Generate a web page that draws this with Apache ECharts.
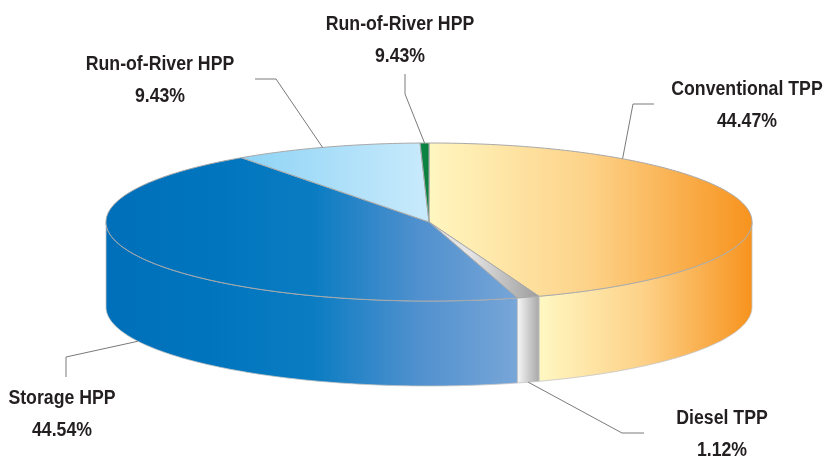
<!DOCTYPE html>
<html>
<head>
<meta charset="utf-8">
<style>html,body{margin:0;padding:0;background:#fff}#chart{width:824px;height:457px}</style>
<script src="https://cdn.jsdelivr.net/npm/echarts@6/dist/echarts.min.js"></script>
</head>
<body>
<div id="chart"></div>
<script>
// data, clockwise from 12 o'clock
var names = ['Conventional TPP', 'Diesel TPP', 'Storage HPP', 'Run-of-River HPP', 'Run-of-River HPP'];
var shares = [44.47, 1.12, 44.54, 9.43, 0.44];     // the slices as they are drawn
var shareLabels = ['44.47%', '1.12%', '44.54%', '9.43%', '9.43%']; // the printed text (green one says 9.43)

// disc geometry
var cx = 429, cy = 222, rx = 323, ry = 79, depth = 85;

// colour ramps, left to right over [x0, x1]
var blues = ['#006fba', '#0075be', '#0a7cc2', '#4f90ce', '#78a6d8'];
var topRamps = [
    { x0: 429, x1: 752, stops: ['#fff6c0', '#fdd288', '#f7931e'] },
    { x0: 470, x1: 540, stops: ['#e4e4e4', '#9c9c9c'] },
    { x0: 106, x1: 520, stops: blues },
    { x0: 241, x1: 420, stops: ['#8ed4f6', '#c6e9fb'] },
    { x0: 418, x1: 429, stops: ['#0b8a46', '#0b7f40'] }
];
var wallRamps = [
    { x0: 540, x1: 752, stops: ['#fff7c2', '#fdd086', '#f7931e'] },
    { x0: 518, x1: 540, stops: ['#f4f4f4', '#a4a4a4'] },
    { x0: 106, x1: 518, stops: blues },
    null,
    null
];

// leaders: tail, elbow, where along the slice it lands, on the lower rim or not
var leaders = [
    { tail: [654, 104], elbow: [633, 104], at: 0.23, low: false },
    { tail: [644, 433], elbow: [622, 433], at: 0.5, low: true },
    { tail: [66, 377], elbow: [66, 357], at: 0.5, low: true },
    { tail: [255, 79], elbow: [276, 79], at: 0.48, low: false },
    { tail: [405, 74], elbow: [405, 94], at: 0.5, low: false }
];
var labelPos = [[747, 137], [722, 466], [62, 446], [160, 112], [400, 72]];

var data = [];
var sum = 0;
shares.forEach(function (s) {
    data.push([sum / 100 * 360, (sum + s) / 100 * 360]);
    sum += s;
});
// shares stop at 100, close any rounding gap
data[data.length - 1][1] = 360;

function rim(deg, drop) {
    var a = deg * Math.PI / 180;
    return [cx + rx * Math.sin(a), cy - ry * Math.cos(a) + (drop || 0)];
}

function ramp(r) {
    var n = r.stops.length - 1;
    return new echarts.graphic.LinearGradient(r.x0, 0, r.x1, 0, r.stops.map(function (c, i) {
        return { offset: i / n, color: c };
    }), true);
}

function renderSlice(params, api) {
    var i = params.dataIndex, a0 = api.value(0), a1 = api.value(1);
    var children = [];
    // wall: only the part facing us (90..270 degrees)
    var w0 = Math.max(a0, 90), w1 = Math.min(a1, 270);
    if (w1 > w0 && wallRamps[i]) {
        var up = [], down = [], d;
        for (d = w0; d < w1; d += 1) { up.push(rim(d)); down.unshift(rim(d, depth)); }
        up.push(rim(w1));
        down.unshift(rim(w1, depth));
        children.push({
            type: 'polygon',
            shape: { points: up.concat(down) },
            style: { fill: ramp(wallRamps[i]), stroke: '#c4c4c4', lineWidth: 0.8 }
        });
    }
    var pts = [[cx, cy]], t;
    for (t = a0; t < a1; t += 1) pts.push(rim(t));
    pts.push(rim(a1));
    children.push({
        type: 'polygon',
        shape: { points: pts },
        style: { fill: ramp(topRamps[i]), stroke: '#a9a9a9', lineWidth: 1 }
    });
    return { type: 'group', children: children };
}

var graphics = [];
names.forEach(function (name, i) {
    var l = leaders[i];
    var a = data[i][0] + (data[i][1] - data[i][0]) * l.at;
    graphics.push({
        type: 'polyline',
        shape: { points: [l.tail, l.elbow, rim(a, l.low ? depth : 0)] },
        style: { stroke: '#7a7a7a', lineWidth: 1, fill: null },
        z: 5
    });
    graphics.push({
        type: 'text',
        x: labelPos[i][0],
        y: labelPos[i][1],
        scaleX: 0.885, // the print uses a condensed bold face
        style: {
            text: name + '\n' + shareLabels[i],
            fontFamily: '"Liberation Sans", sans-serif',
            fontWeight: 'bold',
            fontSize: 20,
            lineHeight: 32,
            align: 'center',
            verticalAlign: 'bottom',
            fill: '#231f20'
        },
        z: 6
    });
});

var chart = echarts.init(document.getElementById('chart'));
chart.setOption({
    animation: false,
    backgroundColor: '#fff',
    series: [{
        type: 'custom',
        coordinateSystem: 'none',
        silent: true,
        renderItem: renderSlice,
        data: data
    }],
    graphic: graphics
});
</script>
</body>
</html>
